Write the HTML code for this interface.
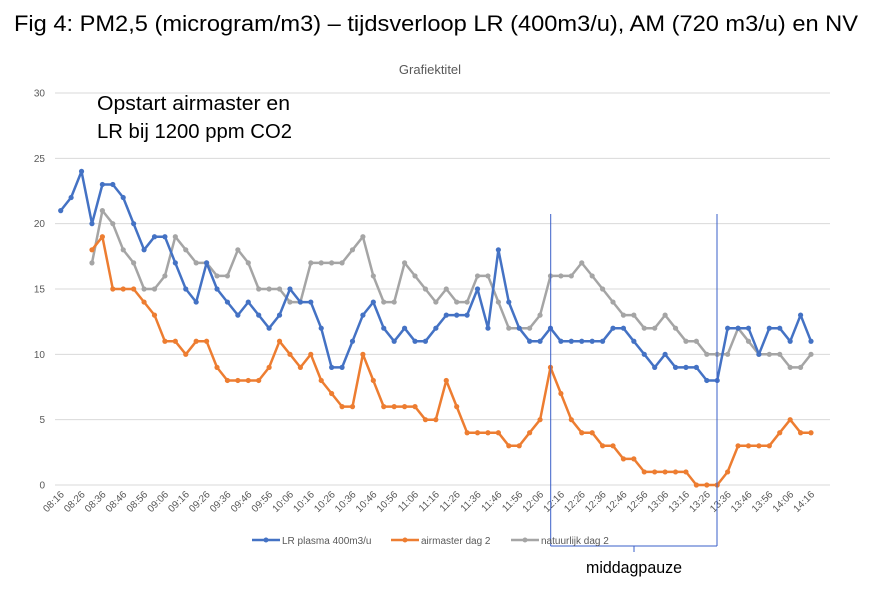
<!DOCTYPE html>
<html><head><meta charset="utf-8"><style>
body{margin:0;background:#fff;width:871px;height:592px;overflow:hidden}
svg{display:block}
</style></head><body>
<svg width="871" height="592" xmlns="http://www.w3.org/2000/svg" font-family="Liberation Sans, sans-serif">
<text x="14" y="31" font-size="22" fill="#000" textLength="844" lengthAdjust="spacingAndGlyphs">Fig 4: PM2,5 (microgram/m3) – tijdsverloop LR (400m3/u), AM (720 m3/u) en NV</text>
<text x="430" y="74" font-size="13" fill="#595959" text-anchor="middle">Grafiektitel</text>
<g id="grid"></g>
<g id="yticks"></g>
<g id="xticks"></g>
<g id="series"></g>
<text x="97" y="110" font-size="20" fill="#000" textLength="193" lengthAdjust="spacingAndGlyphs">Opstart airmaster en</text>
<text x="97" y="138" font-size="20" fill="#000" textLength="195" lengthAdjust="spacingAndGlyphs">LR bij 1200 ppm CO2</text>
<g stroke="#3a5fc8" stroke-width="1" fill="none">
<line x1="550.7" y1="214" x2="550.7" y2="546"/>
<line x1="717" y1="214" x2="717" y2="546"/>
<line x1="550.7" y1="546" x2="717" y2="546"/>
<line x1="634" y1="546" x2="634" y2="552"/>
</g>
<text x="586" y="573" font-size="17" fill="#000" textLength="96" lengthAdjust="spacingAndGlyphs">middagpauze</text>
<g font-size="10" fill="#595959">
<g><line x1="252" y1="540" x2="280" y2="540" stroke="#4472c4" stroke-width="2.5"/><circle cx="266" cy="540" r="2.5" fill="#4472c4"/><text x="282" y="544">LR plasma 400m3/u</text></g>
<g><line x1="391" y1="540" x2="419" y2="540" stroke="#ed7d31" stroke-width="2.5"/><circle cx="405" cy="540" r="2.5" fill="#ed7d31"/><text x="421" y="544">airmaster dag 2</text></g>
<g><line x1="511" y1="540" x2="539" y2="540" stroke="#a5a5a5" stroke-width="2.5"/><circle cx="525" cy="540" r="2.5" fill="#a5a5a5"/><text x="541" y="544">natuurlijk dag 2</text></g>
</g>
</svg>
<script>
const lrValues=[21,22,24,20,23,23,22,20,18,19,19,17,15,14,17,15,14,13,14,13,12,13,15,14,14,12,9,9,11,13,14,12,11,12,11,11,12,13,13,13,15,12,18,14,12,11,11,12,11,11,11,11,11,12,12,11,10,9,10,9,9,9,8,8,12,12,12,10,12,12,11,13,11];
const airmasterValues=[null,null,null,18,19,15,15,15,14,13,11,11,10,11,11,9,8,8,8,8,9,11,10,9,10,8,7,6,6,10,8,6,6,6,6,5,5,8,6,4,4,4,4,3,3,4,5,9,7,5,4,4,3,3,2,2,1,1,1,1,1,0,0,0,1,3,3,3,3,4,5,4,4];
const natuurlijkValues=[null,null,null,17,21,20,18,17,15,15,16,19,18,17,17,16,16,18,17,15,15,15,14,14,17,17,17,17,18,19,16,14,14,17,16,15,14,15,14,14,16,16,14,12,12,12,13,16,16,16,17,16,15,14,13,13,12,12,13,12,11,11,10,10,10,12,11,10,10,10,9,9,10];
const startMin=8*60+16, stepMin=5;
const yTicks=[0,5,10,15,20,25,30];
const NS="http://www.w3.org/2000/svg";
const x0=60.7,x1=811,y0=485,y30=93;
function xs(i){return x0+(x1-x0)*i/(lrValues.length-1);}
function ys(v){return y0-(y0-y30)*v/30;}
function mk(t,a){const e=document.createElementNS(NS,t);for(const k in a)e.setAttribute(k,a[k]);return e;}
const grid=document.getElementById('grid'),yt=document.getElementById('yticks'),xt=document.getElementById('xticks'),sg=document.getElementById('series');
yTicks.forEach(v=>{
 const l=mk('line',{x1:55,x2:830,y1:ys(v),y2:ys(v),stroke:'#d9d9d9','stroke-width':1});
 
 
 grid.appendChild(l);
 const t=mk('text',{x:45,y:ys(v)+3.5,'font-size':10,fill:'#595959','text-anchor':'end'});
 t.textContent=v;
 
 
 yt.appendChild(t);
});
for(let i=0;i<lrValues.length;i+=2){
 const m=startMin+i*stepMin;
 const lab=String(Math.floor(m/60)).padStart(2,'0')+':'+String(m%60).padStart(2,'0');
 const x=xs(i)+4,y=495;
 const t=mk('text',{x:x,y:y,'font-size':10,fill:'#595959','text-anchor':'end',transform:`rotate(-45 ${x} ${y})`});
 t.textContent=lab;
 
 
 xt.appendChild(t);
}
function drawSeries(vals,color,name){
 const g=mk('g',{});
 
 
 let d='';let pen=false;
 vals.forEach((v,i)=>{if(v==null){pen=false;return;}d+=(pen?'L':'M')+xs(i).toFixed(1)+' '+ys(v).toFixed(1)+' ';pen=true;});
 const p=mk('path',{d:d,fill:'none',stroke:color,'stroke-width':2.5,'stroke-linejoin':'round'});
 
 
 g.appendChild(p);
 vals.forEach((v,i)=>{if(v==null)return;
  const c=mk('circle',{cx:xs(i),cy:ys(v),r:2.6,fill:color});
  
  
  g.appendChild(c);});
 sg.appendChild(g);
}
drawSeries(natuurlijkValues,'#a5a5a5','natuurlijk-series');
drawSeries(airmasterValues,'#ed7d31','airmaster-series');
drawSeries(lrValues,'#4472c4','lr-plasma-series');
</script>
</body></html>
